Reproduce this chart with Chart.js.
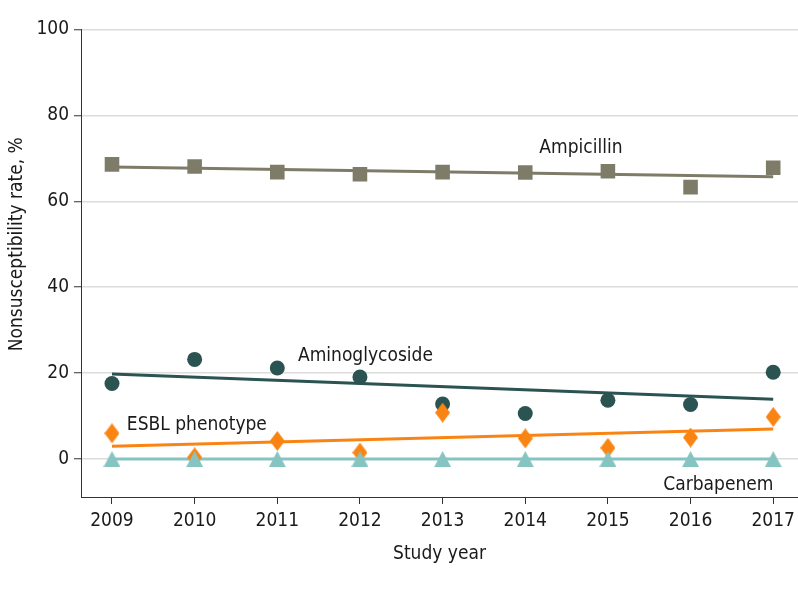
<!DOCTYPE html>
<html>
<head>
<meta charset="utf-8">
<script src="https://cdn.jsdelivr.net/npm/chart.js@4.4.1/dist/chart.umd.min.js"></script>
<style>
  html, body { margin: 0; padding: 0; background: #ffffff; }
  #wrap { width: 798px; height: 597px; }
</style>
</head>
<body>
<div id="wrap"><canvas id="c" width="798" height="597"></canvas></div>
<script>
// ---- Data ----
const years = [2009, 2010, 2011, 2012, 2013, 2014, 2015, 2016, 2017];
const ampicillin     = [68.6, 68.1, 66.8, 66.3, 66.8, 66.7, 67.0, 63.3, 67.8];
const aminoglycoside = [17.6, 23.2, 21.2, 19.1, 12.8, 10.6, 13.7, 12.7, 20.2];
const esbl           = [6.0, 0.4, 4.2, 1.5, 10.8, 4.8, 2.6, 5.0, 9.8];
const carbapenem     = [0, 0, 0, 0, 0, 0, 0, 0, 0];
// fitted trend lines: values at first and last study year
const trendYears          = [2009, 2017];
const ampicillinTrend     = [68.0, 65.7];
const aminoglycosideTrend = [19.8, 13.9];
const esblTrend           = [3.0, 7.0];
const carbapenemTrend     = [0, 0];
const yTicks = [0, 20, 40, 60, 80, 100];
const seriesLabels = ['Ampicillin', 'Aminoglycoside', 'ESBL phenotype', 'Carbapenem'];
const xTitle = 'Study year';
const yTitle = 'Nonsusceptibility rate, %';

// ---- Styles ----
const FONT = '"DejaVu Sans Condensed", "Liberation Sans", "DejaVu Sans", sans-serif';
const C_AMP = '#7e7c68';
const C_AMI = '#2a5352';
const C_ESB = '#fa8413';
const C_CAR = '#86c4c1';

// custom marker shapes (diamond taller than wide, equilateral-ish triangle)
function shapeCanvas(w, h, color, pointsFn) {
  const cv = document.createElement('canvas');
  cv.width = w; cv.height = h;
  const g = cv.getContext('2d');
  g.fillStyle = color;
  g.beginPath();
  pointsFn(w, h).forEach((p, i) => i ? g.lineTo(p[0], p[1]) : g.moveTo(p[0], p[1]));
  g.closePath();
  g.fill();
  return cv;
}
const diamondMarker = shapeCanvas(15, 20, C_ESB, (w, h) => [[w / 2, 0], [w, h / 2], [w / 2, h], [0, h / 2]]);
const triangleMarker = shapeCanvas(17, 16, C_CAR, (w, h) => [[w / 2, 0], [w, h], [0, h]]);

const pts = (arr) => years.map((y, i) => ({ x: y, y: arr[i] }));
const trend = (arr) => trendYears.map((y, i) => ({ x: y, y: arr[i] }));

function scatterSet(label, data, color, style, radius) {
  return {
    type: 'scatter', label, data: pts(data),
    pointStyle: style, pointRadius: radius, pointHoverRadius: radius,
    backgroundColor: color, borderColor: color, borderWidth: 0, showLine: false
  };
}
function trendSet(label, data, color) {
  return {
    type: 'line', label: label + ' trend', data: trend(data),
    borderColor: color, borderWidth: 3, pointRadius: 0, fill: false, tension: 0
  };
}

// annotation labels placed in data coordinates (left x in years, baseline y in %)
const annotations = [
  { text: seriesLabels[0], x: 2014.17, y: 71.2 },
  { text: seriesLabels[1], x: 2011.25, y: 22.8 },
  { text: seriesLabels[2], x: 2009.18, y: 6.7 },
  { text: seriesLabels[3], x: 2015.67, y: -7.2 }
];

const labelPlugin = {
  id: 'labels',
  afterDatasetsDraw(chart) {
    const ctx = chart.ctx;
    const xs = chart.scales.x, ys = chart.scales.y;
    ctx.save();
    ctx.fillStyle = '#1a1a1a';
    ctx.font = '19px ' + FONT;
    ctx.textAlign = 'left';
    ctx.textBaseline = 'alphabetic';
    annotations.forEach(a => {
      ctx.fillText(a.text, xs.getPixelForValue(a.x), ys.getPixelForValue(a.y));
    });
    // x axis title
    ctx.textAlign = 'center';
    ctx.fillText(xTitle, (chart.chartArea.left + chart.chartArea.right) / 2, 559);
    // y axis title, centred on the 0-100 range
    const cy = (ys.getPixelForValue(0) + ys.getPixelForValue(100)) / 2;
    ctx.translate(17, cy);
    ctx.rotate(-Math.PI / 2);
    ctx.textAlign = 'center';
    ctx.textBaseline = 'middle';
    ctx.fillText(yTitle, 0, 0);
    ctx.restore();
  }
};

new Chart(document.getElementById('c'), {
  data: {
    datasets: [
      scatterSet(seriesLabels[3], carbapenem, C_CAR, triangleMarker, 9),
      scatterSet(seriesLabels[2], esbl, C_ESB, diamondMarker, 9),
      scatterSet(seriesLabels[1], aminoglycoside, C_AMI, 'circle', 7.5),
      scatterSet(seriesLabels[0], ampicillin, C_AMP, 'rect', 10.3),
      trendSet(seriesLabels[3], carbapenemTrend, C_CAR),
      trendSet(seriesLabels[2], esblTrend, C_ESB),
      trendSet(seriesLabels[1], aminoglycosideTrend, C_AMI),
      trendSet(seriesLabels[0], ampicillinTrend, C_AMP)
    ]
  },
  options: {
    responsive: false,
    animation: false,
    events: [],
    layout: { autoPadding: false, padding: { top: 29.5, right: 0, left: 0, bottom: 0 } },
    plugins: { legend: { display: false }, tooltip: { enabled: false } },
    scales: {
      x: {
        type: 'linear',
        min: 2008.625,
        max: 2017.3,
        afterBuildTicks: (s) => { s.ticks = years.map(v => ({ value: v })); },
        afterFit: (s) => { s.height = 100; s.paddingLeft = 0; s.paddingRight = 0; },
        grid: { display: true, drawOnChartArea: false, drawTicks: true, tickLength: 7, tickColor: '#333333', tickWidth: 1 },
        border: { display: true, color: '#333333', width: 1 },
        ticks: { color: '#1a1a1a', font: { family: FONT, size: 19 }, padding: 6, callback: (v) => String(v), maxRotation: 0, autoSkip: false },
        title: { display: false }
      },
      y: {
        type: 'linear',
        min: -8.84,
        max: 100,
        afterBuildTicks: (s) => { s.ticks = yTicks.map(v => ({ value: v })); },
        afterFit: (s) => { s.width = 81; s.paddingTop = 0; s.paddingBottom = 0; },
        grid: { display: true, drawOnChartArea: true, color: '#dcdcdc', lineWidth: 1.5, drawTicks: true, tickLength: 7, tickColor: '#333333', tickWidth: 1 },
        border: { display: true, color: '#333333', width: 1 },
        ticks: { color: '#1a1a1a', font: { family: FONT, size: 19 }, padding: 5, callback: (v) => String(v) }
      }
    }
  },
  plugins: [labelPlugin]
});
</script>
</body>
</html>
